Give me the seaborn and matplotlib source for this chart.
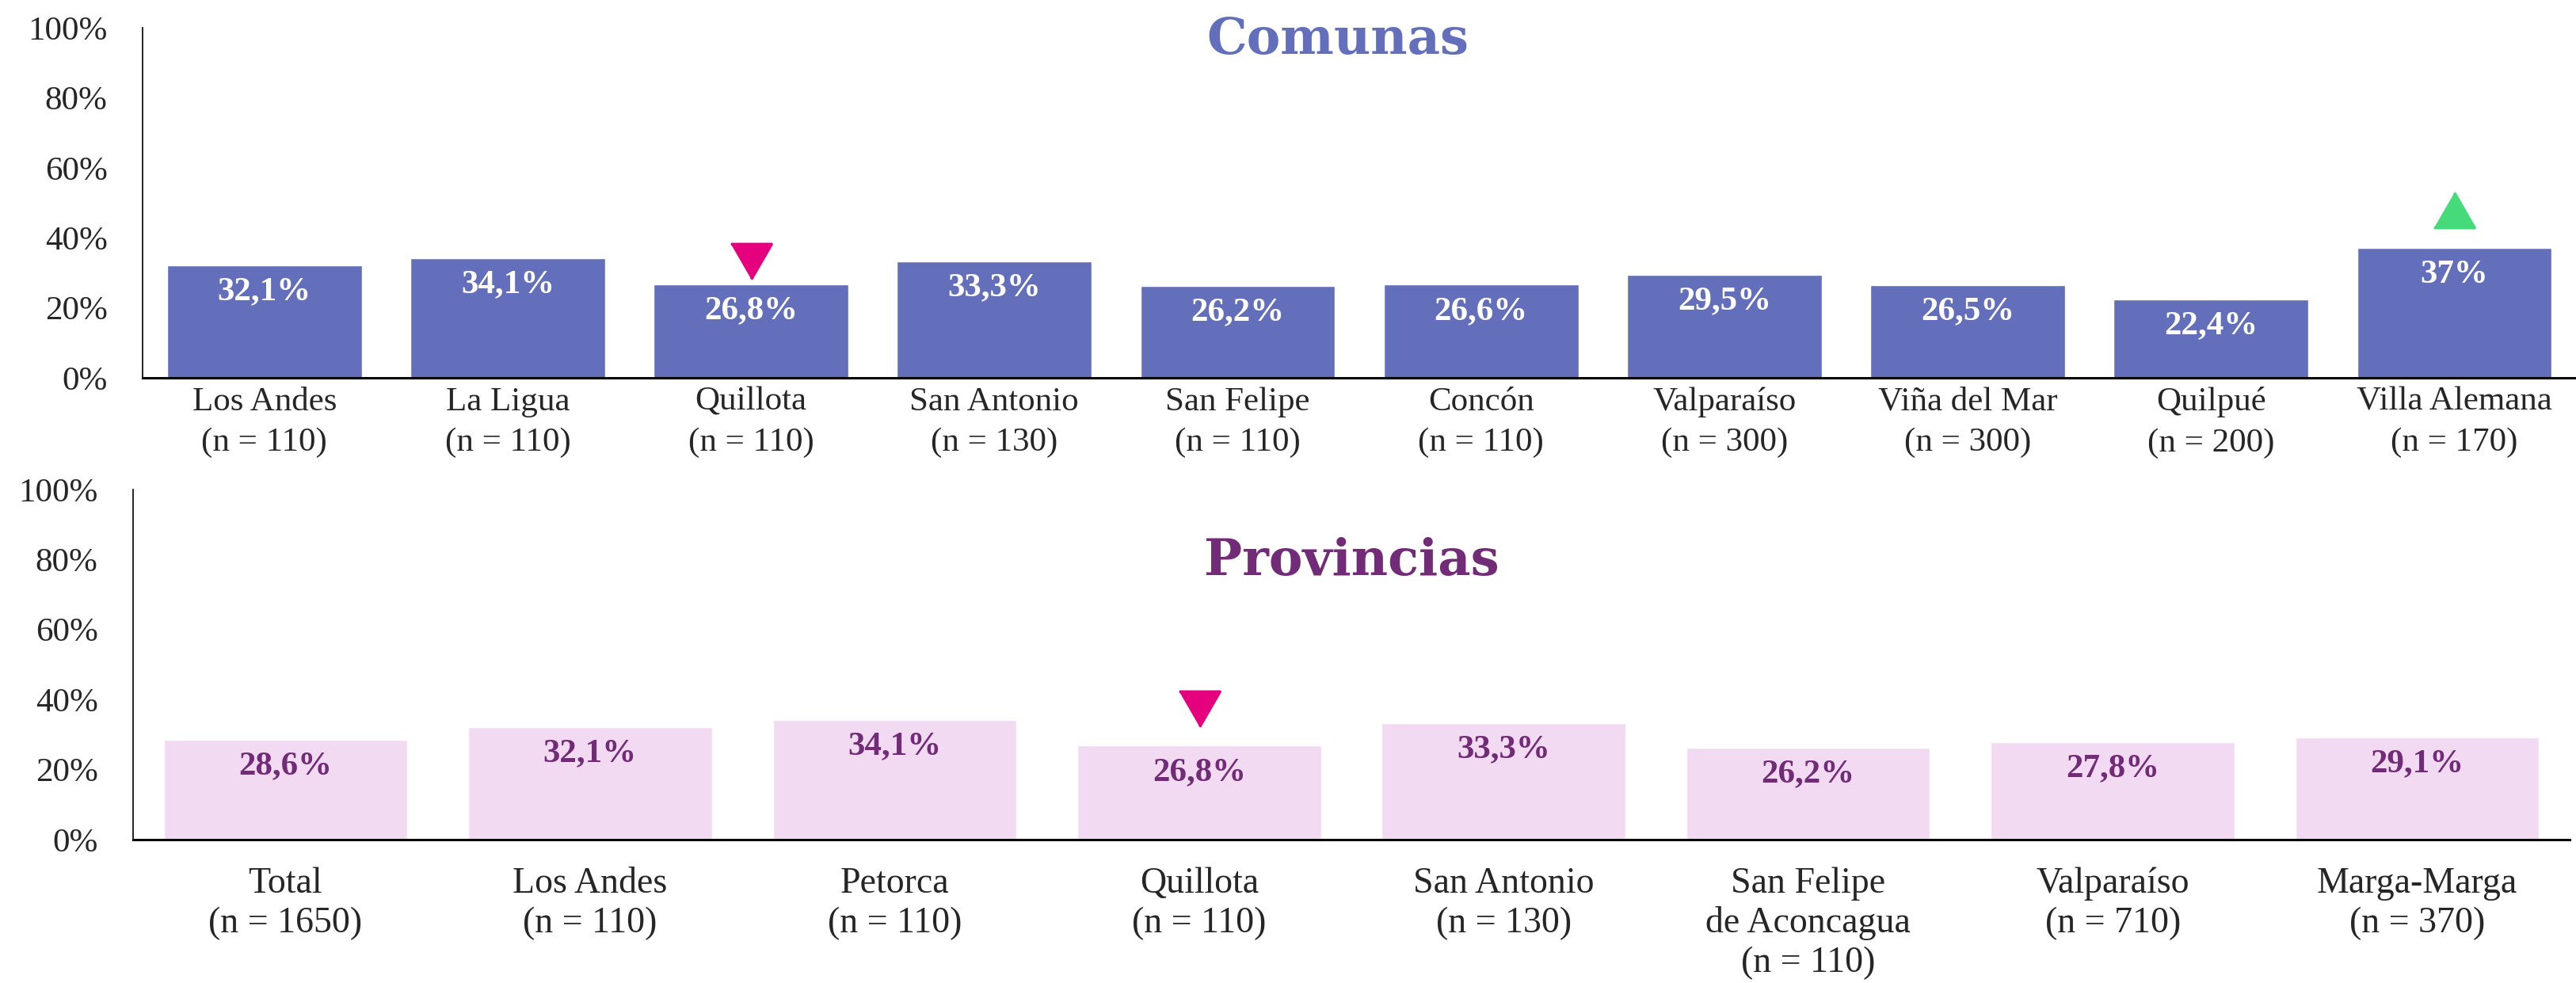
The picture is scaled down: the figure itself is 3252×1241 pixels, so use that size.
import matplotlib
matplotlib.use('Agg')
import matplotlib.pyplot as plt
import seaborn as sns
from matplotlib.markers import MarkerStyle

# Datos - comunas
comunas = ['Los Andes', 'La Ligua', 'Quillota', 'San Antonio', 'San Felipe',
           'Concón', 'Valparaíso', 'Viña del Mar', 'Quilpué', 'Villa Alemana']
n_comunas = [110, 110, 110, 130, 110, 110, 300, 300, 200, 170]
pct_comunas = [32.1, 34.1, 26.8, 33.3, 26.2, 26.6, 29.5, 26.5, 22.4, 37]

# Datos - provincias
provincias = ['Total', 'Los Andes', 'Petorca', 'Quillota', 'San Antonio',
              'San Felipe\nde Aconcagua', 'Valparaíso', 'Marga-Marga']
n_provincias = [1650, 110, 110, 110, 130, 110, 710, 370]
pct_provincias = [28.6, 32.1, 34.1, 26.8, 33.3, 26.2, 27.8, 29.1]

# Marcadores de diferencia (categoria, altura en %, sentido)
marca_com_cat = ['Quillota', 'Villa Alemana']
marca_com_y = [33.3, 47.9]
marca_com_dir = ['baja', 'sube']
marca_prov_cat = ['Quillota']
marca_prov_y = [37.4]
marca_prov_dir = ['baja']

AZUL = '#636FBA'
MORADO = '#722B77'
LILA = '#F2DAF3'
ROJO = '#E5007D'
VERDE = '#45DB7A'

sns.set_style('white')
plt.rcParams['font.family'] = ['Liberation Serif', 'DejaVu Serif']

tri_abajo = MarkerStyle([(-1, 0.866), (1, 0.866), (0, -0.866)], joinstyle='round')
tri_arriba = MarkerStyle([(-1, -0.866), (1, -0.866), (0, 0.866)], joinstyle='round')


def fmt(v):
    return f'{v:g}'.replace('.', ',') + '%'


def dibujar(ax, cats, ns, pcts, color_barra, color_texto, color_titulo, titulo,
            titulo_x, titulo_y, m_cat, m_y, m_dir, tick_size, linesp, pad_x):
    etiquetas = [f'{c}\n(n = {n})' for c, n in zip(cats, ns)]
    sns.barplot(x=etiquetas, y=pcts, color=color_barra, saturation=1,
                width=0.8, ax=ax)
    ax.set_xlim(-0.5, len(cats) - 0.5)
    ax.set_ylim(0, 100)
    ax.set_yticks(range(0, 101, 20))
    ax.set_yticklabels([f'{t}%' for t in range(0, 101, 20)], fontsize=31)
    ax.tick_params(axis='y', length=0, pad=32)
    ax.tick_params(axis='x', length=0, pad=pad_x)
    for lab in ax.get_xticklabels():
        lab.set_fontsize(tick_size)
        lab.set_linespacing(linesp)
    for s in ['top', 'right']:
        ax.spines[s].set_visible(False)
    ax.spines['left'].set_linewidth(1.2)
    ax.spines['bottom'].set_linewidth(2.2)
    ax.spines['left'].set_color('black')
    ax.spines['bottom'].set_color('black')

    for p, v in zip(ax.patches, pcts):
        ax.annotate(fmt(v), (p.get_x() + p.get_width() / 2, p.get_height()),
                    xytext=(0, -24), textcoords='offset points',
                    ha='center', va='center', fontsize=31, fontweight='bold',
                    color=color_texto)

    for c, y, d in zip(m_cat, m_y, m_dir):
        i = cats.index(c)
        if d == 'baja':
            ax.plot(i, y, marker=tri_abajo, markersize=37, color=ROJO,
                    markeredgewidth=2.5, markeredgecolor=ROJO)
        else:
            ax.plot(i, y, marker=tri_arriba, markersize=37, color=VERDE,
                    markeredgewidth=2.5, markeredgecolor=VERDE)

    ax.text(titulo_x, titulo_y, titulo, transform=ax.transAxes, ha='center',
            va='center', fontsize=46, fontweight='bold', color=color_titulo,
            family='DejaVu Serif')
    ax.set_ylabel('')
    ax.set_xlabel('')


fig = plt.figure(figsize=(32.52, 12.41), dpi=100)
ax1 = fig.add_axes([0.0554, 0.6156, 0.9446, 0.3562])
ax2 = fig.add_axes([0.0517, 0.1459, 0.9458, 0.3562])

dibujar(ax1, comunas, n_comunas, pct_comunas, AZUL, 'white', AZUL, 'Comunas',
        0.491, 0.965, marca_com_cat, marca_com_y, marca_com_dir, 31, 1.45, 8)
dibujar(ax2, provincias, n_provincias, pct_provincias, LILA, MORADO, MORADO,
        'Provincias', 0.5, 0.794, marca_prov_cat, marca_prov_y, marca_prov_dir,
        33, 1.22, 25)

fig.savefig('out.png', dpi=100, facecolor='white')
